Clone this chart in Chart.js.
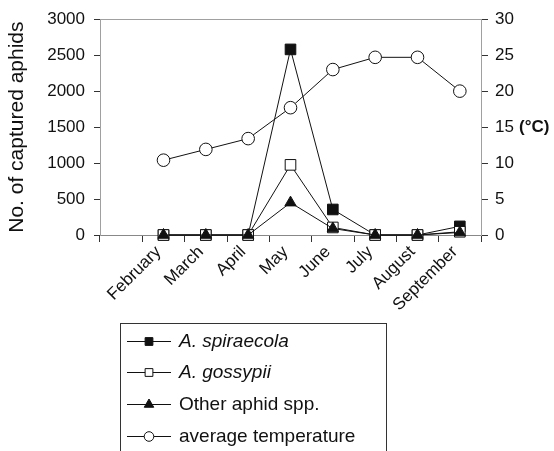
<!DOCTYPE html>
<html>
<head>
<meta charset="utf-8">
<title>Captured aphids and average temperature</title>
<script src="https://cdn.jsdelivr.net/npm/chart.js@4/dist/chart.umd.min.js"></script>
<style>
  html, body { margin: 0; padding: 0; background: #fff; }
  #wrap { width: 554px; height: 451px; }
</style>
</head>
<body>
<div id="wrap"><canvas id="aphidChart" width="554" height="451"></canvas></div>
<script>
// Monthly catches (first category is an empty slot, as in the original)
var months = ['', 'February', 'March', 'April', 'May', 'June', 'July', 'August', 'September'];
var spiraecola = [null, 0, 0, 0, 2580, 355, 0, 0, 120];
var gossypii = [null, 0, 0, 0, 975, 105, 0, 0, 45];
var otherSpp = [null, 0, 0, 0, 450, 90, 0, 0, 35];
var avgTemp = [null, 10.4, 11.9, 13.4, 17.7, 23.0, 24.7, 24.7, 20.0];

var FONT = "'Liberation Sans', Arial, Helvetica, sans-serif";
Chart.defaults.font.family = FONT;
Chart.defaults.color = '#111';

// legend entries (same order as the printed figure)
var legendItems = [
  { text: 'A. spiraecola', italic: true, style: 'rect', fill: '#111', r: 5.5 },
  { text: 'A. gossypii', italic: true, style: 'rect', fill: '#fff', r: 5.5 },
  { text: 'Other aphid spp.', italic: false, style: 'triangle', fill: '#111', r: 5.5 },
  { text: 'average temperature', italic: false, style: 'circle', fill: '#fff', r: 4.8 }
];

function drawMarker(ctx, style, x, y, r, fill) {
  ctx.save();
  ctx.beginPath();
  if (style === 'rect') {
    var s = Math.SQRT1_2 * r;
    ctx.rect(x - s, y - s, 2 * s, 2 * s);
  } else if (style === 'triangle') {
    var a = 0;
    ctx.moveTo(x + Math.sin(a) * r, y - Math.cos(a) * r);
    a += Math.PI * 2 / 3;
    ctx.lineTo(x + Math.sin(a) * r, y - Math.cos(a) * r);
    a += Math.PI * 2 / 3;
    ctx.lineTo(x + Math.sin(a) * r, y - Math.cos(a) * r);
    ctx.closePath();
  } else {
    ctx.arc(x, y, r, 0, Math.PI * 2);
  }
  ctx.fillStyle = fill;
  ctx.fill();
  ctx.lineWidth = 1;
  ctx.strokeStyle = '#111';
  ctx.stroke();
  ctx.restore();
}

// frame top line, the (°C) unit and the boxed legend
var extras = {
  id: 'extras',
  afterDraw: function (chart) {
    var ctx = chart.ctx;
    var area = chart.chartArea;
    ctx.save();
    ctx.strokeStyle = '#a0a0a0';
    ctx.lineWidth = 1;
    ctx.beginPath();
    ctx.moveTo(area.left, Math.round(area.top) + 0.5);
    ctx.lineTo(area.right, Math.round(area.top) + 0.5);
    ctx.stroke();

    // unit next to the 15 tick of the temperature axis
    var yT = chart.scales.y1.getPixelForValue(15);
    ctx.fillStyle = '#111';
    ctx.font = 'bold 17px ' + FONT;
    ctx.textBaseline = 'middle';
    ctx.textAlign = 'left';
    ctx.fillText('(\u00b0C)', 519, yT);

    // legend box (runs off the bottom of the picture)
    ctx.strokeStyle = '#333';
    ctx.strokeRect(120.5, 323.5, 266, 140);
    var rows = [341, 372, 404, 436];
    legendItems.forEach(function (item, i) {
      var y = rows[i];
      ctx.strokeStyle = '#111';
      ctx.beginPath();
      ctx.moveTo(127, y + 0.5);
      ctx.lineTo(171, y + 0.5);
      ctx.stroke();
      drawMarker(ctx, item.style, 149, y + 0.5, item.r, item.fill);
      ctx.fillStyle = '#111';
      ctx.font = (item.italic ? 'italic ' : '') + '19px ' + FONT;
      ctx.textBaseline = 'middle';
      ctx.fillText(item.text, 179, y + 1);
    });
    ctx.restore();
  }
};

function lineSet(label, data, style, fill, radius, order, axis) {
  return {
    label: label,
    data: data,
    yAxisID: axis,
    order: order,
    clip: false,
    borderColor: '#111',
    borderWidth: 1,
    pointStyle: style,
    pointRadius: radius,
    pointBackgroundColor: fill,
    pointBorderColor: '#111',
    pointBorderWidth: 1,
    tension: 0,
    spanGaps: false
  };
}

function plainTick(v) { return String(v); }

new Chart(document.getElementById('aphidChart'), {
  type: 'line',
  data: {
    labels: months,
    datasets: [
      lineSet('A. spiraecola', spiraecola, 'rect', '#111', 7.5, 3, 'y'),
      lineSet('A. gossypii', gossypii, 'rect', '#fff', 7.5, 2, 'y'),
      lineSet('Other aphid spp.', otherSpp, 'triangle', '#111', 6.5, 1, 'y'),
      lineSet('average temperature', avgTemp, 'circle', '#fff', 6.3, 4, 'y1')
    ]
  },
  options: {
    responsive: false,
    animation: false,
    layout: { padding: { top: 15, left: 0, right: 0, bottom: 0 } },
    plugins: {
      legend: { display: false },
      tooltip: { enabled: false }
    },
    scales: {
      x: {
        offset: true,
        border: { color: '#888', width: 1 },
        grid: { offset: true, drawOnChartArea: false, drawTicks: true, tickLength: 7, color: '#333' },
        ticks: {
          minRotation: 45,
          maxRotation: 45,
          autoSkip: false,
          padding: 0,
          labelOffset: -5,
          font: { size: 17 },
          color: '#111'
        },
        afterFit: function (scale) { scale.height = 216; }
      },
      y: {
        position: 'left',
        min: 0,
        max: 3000,
        border: { color: '#a0a0a0', width: 1 },
        grid: { drawOnChartArea: false, tickLength: 6, color: '#333' },
        ticks: { stepSize: 500, padding: 9, font: { size: 17 }, color: '#111', callback: plainTick },
        title: {
          display: true,
          text: 'No. of captured aphids',
          font: { size: 21 },
          color: '#111',
          padding: { top: 5, bottom: 0 }
        },
        afterFit: function (scale) { scale.width = 100; }
      },
      y1: {
        position: 'right',
        min: 0,
        max: 30,
        border: { color: '#a0a0a0', width: 1 },
        grid: { drawOnChartArea: false, tickLength: 7, color: '#333' },
        ticks: { stepSize: 5, padding: 7, font: { size: 17 }, color: '#111', callback: plainTick },
        afterFit: function (scale) { scale.width = 73; }
      }
    }
  },
  plugins: [extras]
});
</script>
</body>
</html>
